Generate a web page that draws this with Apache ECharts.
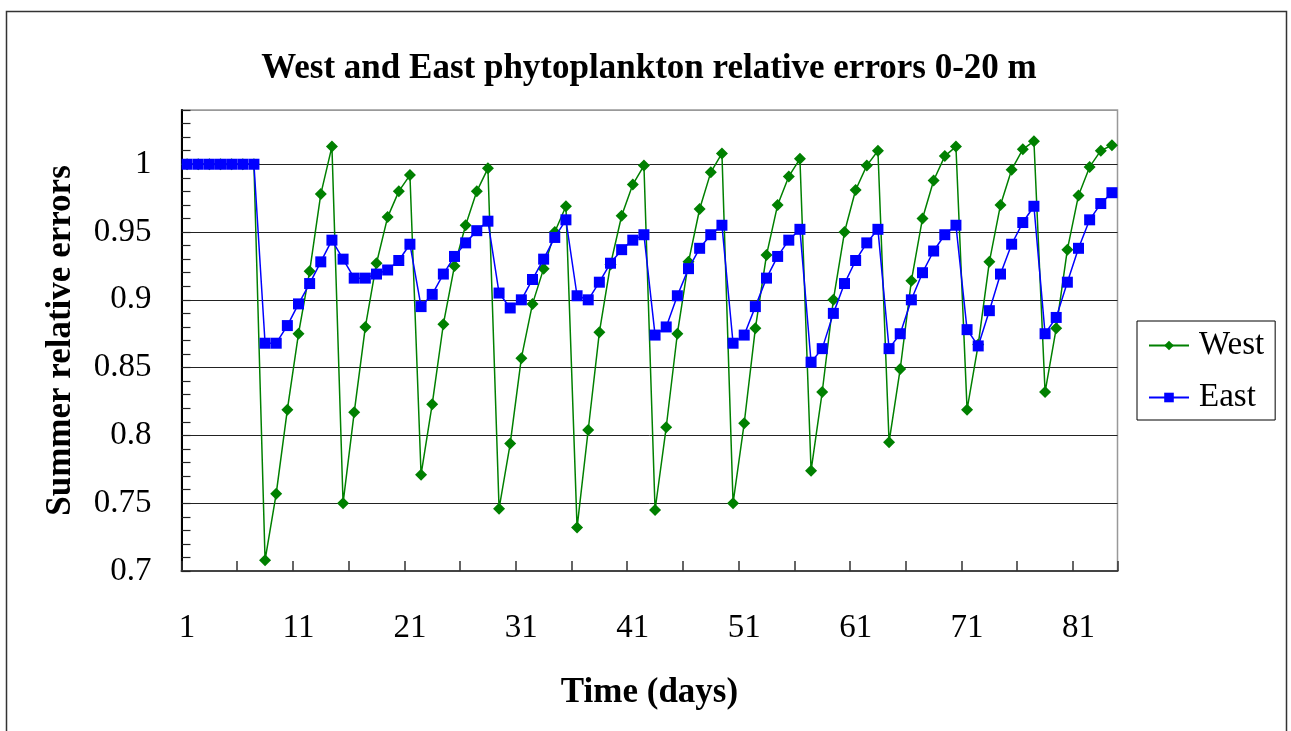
<!DOCTYPE html>
<html>
<head>
<meta charset="utf-8">
<script src="https://cdn.jsdelivr.net/npm/echarts@6/dist/echarts.min.js"></script>
<style>
  html, body { margin: 0; padding: 0; background: #fff; }
  #chart { width: 1291px; height: 731px; }
</style>
</head>
<body>
<div id="chart"></div>
<script>
// Day numbers along the time axis
const days = [
  1, 2, 3, 4, 5, 6, 7, 8, 9, 10, 11, 12, 13, 14, 15, 16, 17, 18, 19, 20, 21,
  22, 23, 24, 25, 26, 27, 28, 29, 30, 31, 32, 33, 34, 35, 36, 37, 38, 39, 40, 41, 42,
  43, 44, 45, 46, 47, 48, 49, 50, 51, 52, 53, 54, 55, 56, 57, 58, 59, 60, 61, 62, 63,
  64, 65, 66, 67, 68, 69, 70, 71, 72, 73, 74, 75, 76, 77, 78, 79, 80, 81, 82, 83, 84
];

// West basin phytoplankton relative error, 0-20 m
const westErrors = [
  1, 1, 1, 1, 1, 1, 1,
  0.708, 0.757, 0.819, 0.875, 0.921, 0.978, 1.013,
  0.750, 0.817, 0.880, 0.927, 0.961, 0.980, 0.992,
  0.771, 0.823, 0.882, 0.925, 0.955, 0.980, 0.997,
  0.746, 0.794, 0.857, 0.897, 0.923, 0.950, 0.969,
  0.732, 0.804, 0.876, 0.926, 0.962, 0.985, 0.999,
  0.745, 0.806, 0.875, 0.928, 0.967, 0.994, 1.008,
  0.750, 0.809, 0.879, 0.933, 0.970, 0.991, 1.004,
  0.774, 0.832, 0.900, 0.950, 0.981, 0.999, 1.010,
  0.795, 0.849, 0.914, 0.960, 0.988, 1.006, 1.013,
  0.819, 0.867, 0.928, 0.970, 0.996, 1.011, 1.017,
  0.832, 0.879, 0.937, 0.977, 0.998, 1.010, 1.014
];

// East basin phytoplankton relative error, 0-20 m
const eastErrors = [
  1, 1, 1, 1, 1, 1, 1,
  0.868, 0.868, 0.881, 0.897, 0.912, 0.928, 0.944,
  0.930, 0.916, 0.916, 0.919, 0.922, 0.929, 0.941,
  0.895, 0.904, 0.919, 0.932, 0.942, 0.951, 0.958,
  0.905, 0.894, 0.900, 0.915, 0.930, 0.946, 0.959,
  0.903, 0.900, 0.913, 0.927, 0.937, 0.944, 0.948,
  0.874, 0.880, 0.903, 0.923, 0.938, 0.948, 0.955,
  0.868, 0.874, 0.895, 0.916, 0.932, 0.944, 0.952,
  0.854, 0.864, 0.890, 0.912, 0.929, 0.942, 0.952,
  0.864, 0.875, 0.900, 0.920, 0.936, 0.948, 0.955,
  0.878, 0.866, 0.892, 0.919, 0.941, 0.957, 0.969,
  0.875, 0.887, 0.913, 0.938, 0.959, 0.971, 0.979
];

const FONT = '"Liberation Serif", "Times New Roman", serif';
const Y_MIN = 0.7, Y_MAX = 1.04;

const chart = echarts.init(document.getElementById('chart'), null, { renderer: 'canvas' });

chart.setOption({
  animation: false,
  backgroundColor: '#fff',
  graphic: [{
    type: 'rect',
    silent: true,
    shape: { x: 6.5, y: 11.5, width: 1280, height: 740 },
    style: { fill: 'none', stroke: '#333', lineWidth: 1.5 }
  }],
  title: {
    text: 'West and East phytoplankton relative errors 0-20 m',
    left: 644,
    textAlign: 'center',
    top: 46,
    textStyle: { fontFamily: FONT, fontSize: 35, fontWeight: 'bold', color: '#000' }
  },
  legend: {
    orient: 'vertical',
    left: 1137,
    top: 321,
    padding: [8, 11, 6, 11],
    itemGap: 19,
    itemWidth: 40,
    itemHeight: 12,
    borderColor: '#000',
    borderWidth: 1,
    backgroundColor: '#fff',
    textStyle: { fontFamily: FONT, fontSize: 33, color: '#000', padding: [0, 0, 0, 5] },
    data: ['West', 'East']
  },
  grid: {
    left: 181.5,
    right: 173.5,
    top: 110,
    bottom: 160,
    show: true,
    borderColor: '#999',
    borderWidth: 1.5,
    backgroundColor: 'transparent'
  },
  xAxis: {
    type: 'category',
    data: days,
    boundaryGap: true,
    name: 'Time (days)',
    nameLocation: 'middle',
    nameGap: 104,
    nameTextStyle: { fontFamily: FONT, fontSize: 35, fontWeight: 'bold', color: '#000' },
    axisLine: { show: true, lineStyle: { color: '#444', width: 2 } },
    axisTick: { show: true, inside: true, length: 10, interval: 4, alignWithLabel: false,
      lineStyle: { color: '#333', width: 1.5 } },
    axisLabel: { interval: 9, margin: 41, fontFamily: FONT, fontSize: 33, color: '#000' },
    splitLine: { show: false }
  },
  yAxis: [{
    type: 'value',
    min: Y_MIN,
    max: Y_MAX,
    interval: 0.01,
    name: 'Summer relative errors',
    nameLocation: 'middle',
    nameGap: 103,
    nameTextStyle: { fontFamily: FONT, fontSize: 35, fontWeight: 'bold', color: '#000' },
    axisLine: { show: true, lineStyle: { color: '#000', width: 2 } },
    axisTick: { show: true, inside: true, length: 9, lineStyle: { color: '#222', width: 1.2 } },
    axisLabel: {
      margin: 30,
      fontFamily: FONT,
      fontSize: 33,
      color: '#000',
      formatter: function (v) {
        const k = Math.round(v * 100);
        if (k % 5 !== 0 || k > 100) return '';
        return String(k / 100);
      }
    },
    splitLine: { show: false }
  }, {
    // carries the major gridlines every 0.05
    type: 'value',
    min: Y_MIN,
    max: Y_MAX,
    interval: 0.05,
    position: 'left',
    axisLine: { show: false },
    axisTick: { show: false },
    axisLabel: { show: false },
    splitLine: {
      show: true,
      lineStyle: {
        color: ['#222', '#222', '#222', '#222', '#222', '#222', '#222', '#999'],
        width: 1
      }
    }
  }],
  series: [{
    name: 'West',
    type: 'line',
    data: westErrors,
    yAxisIndex: 0,
    symbol: 'diamond',
    symbolSize: 12,
    showAllSymbol: true,
    color: '#008000',
    lineStyle: { color: '#008000', width: 1.5 },
    itemStyle: { color: '#008000' },
    z: 3
  }, {
    name: 'East',
    type: 'line',
    data: eastErrors,
    yAxisIndex: 0,
    symbol: 'rect',
    symbolSize: 11,
    showAllSymbol: true,
    color: '#0000ff',
    lineStyle: { color: '#0000ff', width: 1.5 },
    itemStyle: { color: '#0000ff' },
    z: 4
  }]
});
</script>
</body>
</html>
